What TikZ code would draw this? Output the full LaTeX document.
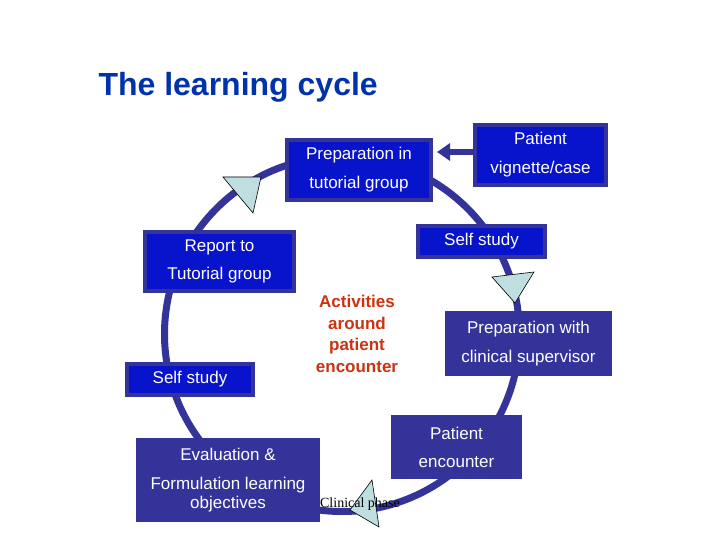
\documentclass[tikz,border=0pt]{standalone}
\usepackage{fontspec}
\setmainfont{Liberation Sans}
\newfontfamily\phasefont{Liberation Serif}
\usetikzlibrary{arrows.meta}
\definecolor{cyclenavy}{RGB}{51,51,153}
\definecolor{boxblue}{RGB}{8,20,204}
\definecolor{titleblue}{RGB}{0,51,170}
\definecolor{actred}{RGB}{204,51,17}
\definecolor{tipcyan}{RGB}{190,222,224}

\begin{document}
\begin{tikzpicture}[x=1pt,y=-1pt,
  boxtext/.style={text=white,align=center,inner sep=0pt,font=\fontsize{17}{19}\selectfont},
  lightbox/.style={boxtext,draw=cyclenavy,fill=boxblue,line width=4pt},
  darkbox/.style={boxtext,fill=cyclenavy},
  turn/.style={fill=tipcyan,draw=black,line width=0.6pt}]
  \useasboundingbox[fill=white] (0,0) rectangle (720,540);

  \node[titleblue,font=\fontsize{32}{36}\selectfont\bfseries,anchor=base west] (title) at (95,95.5) {The learning cycle};

  % the cycle itself
  \draw[cyclenavy,line width=7pt] (342,334) circle[radius=177.5pt];

  \node[lightbox,minimum width=144pt,minimum height=60pt] (prep) at (359,170) {Preparation in\\[10pt]tutorial group};
  \node[lightbox,minimum width=131pt,minimum height=60pt] (vignette) at (540.5,155) {Patient\\[10pt]vignette/case};
  \node[lightbox,minimum width=149pt,minimum height=59pt] (report) at (219.5,261.5) {Report to\\[9pt]Tutorial group};
  \node[lightbox,minimum width=127pt,minimum height=31pt] (selfright) at (481.5,241.5) {Self study};
  \node[darkbox,minimum width=167pt,minimum height=65pt] (supervisor) at (528.5,343.5) {Preparation with\\[10pt]clinical supervisor};
  \node[lightbox,minimum width=126pt,minimum height=31pt] (selfleft) at (190,379.5) {Self study};
  \node[darkbox,minimum width=131pt,minimum height=64pt] (encounter) at (456.5,447) {Patient\\[9pt]encounter};
  \node[darkbox,minimum width=184pt,minimum height=84pt] (evaluation) at (228,480) {Evaluation \&\\[10pt]Formulation learning\\objectives};

  \draw[cyclenavy,line width=6pt,-{Triangle[length=13pt,width=17pt]},shorten >=4pt]
    ([yshift=3pt]vignette.west) -- ([yshift=3pt]vignette.west -| prep.east);

  % direction marks on the cycle
  \draw[turn] (223,177) -- (261,177) -- (253,213) -- cycle;
  \draw[turn] (492,277) -- (534,272) -- (515,303) -- cycle;
  \draw[turn] (372,480) -- (379,527) -- (350,510) -- cycle;

  \node[actred,align=center,inner sep=0pt,font=\fontsize{17}{21.5}\selectfont\bfseries] (activities) at (357,334) {Activities\\around\\patient\\encounter};
  \node[inner sep=0pt,font=\phasefont\fontsize{14}{16}\selectfont] (phase) at (360,504) {Clinical phase};
\end{tikzpicture}
\end{document}
